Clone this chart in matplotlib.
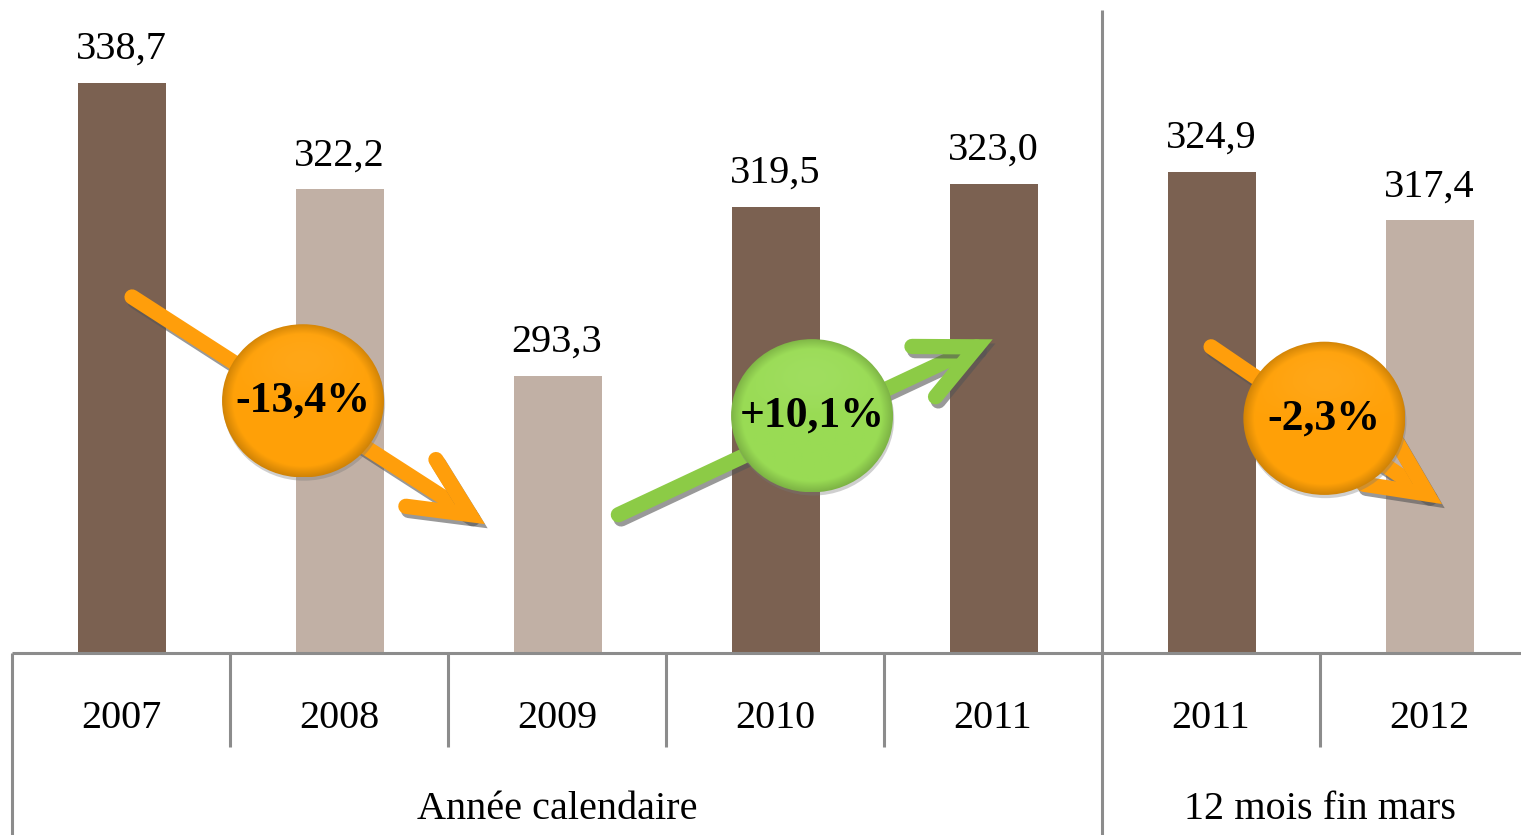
import numpy as np
import matplotlib
matplotlib.use("Agg")
from matplotlib import pyplot as plt
from matplotlib.patches import Ellipse, FancyArrowPatch
from matplotlib import patheffects as pe

# data
years = ['2007', '2008', '2009', '2010', '2011', '2011', '2012']
values = [338.7, 322.2, 293.3, 319.5, 323.0, 324.9, 317.4]
value_labels = ['338,7', '322,2', '293,3', '319,5', '323,0', '324,9', '317,4']
shade = ['dark', 'light', 'light', 'dark', 'dark', 'dark', 'light']
groups = ['Année calendaire', '12 mois fin mars']
group_span = [(0, 4), (5, 6)]
changes = ['-13,4%', '+10,1%', '-2,3%']
change_kind = ['down', 'up', 'down']
# arrow tail/head (category position, value) and bubble centre
arrow_tail = [(0.04, 305.8), (2.27, 271.7), (4.99, 298.1)]
arrow_head = [(1.68, 270.2), (4.01, 299.2), (6.07, 273.3)]
bubble_xy = [(0.835, 289.5), (3.17, 287.2), (5.52, 286.8)]

colors = {'dark': '#7B6151', 'light': '#C1B0A5'}
arrow_colors = {'down': '#FF9E0B', 'up': '#8CCB46'}
bubble_colors = {'down': (1.0, 0.63, 0.03), 'up': (0.60, 0.86, 0.33)}
serif = ['Liberation Serif', 'DejaVu Serif']
grid_col = '#8C8C8C'

fig = plt.figure(figsize=(15.21, 8.35), dpi=100)
ax = fig.add_axes([12 / 1521, 182 / 835, 1526 / 1521, 653 / 835])
tab = fig.add_axes([12 / 1521, 0, 1526 / 1521, 182 / 835])

x = np.arange(len(values))
ax.bar(x + 0.005, [v - 250.5 for v in values], bottom=250.5, width=0.40,
       color=[colors[s] for s in shade], zorder=2)
for xi, v, lab in zip(x, values, value_labels):
    ax.annotate(lab, (xi, v), xytext=(0, 11), textcoords='offset points',
                ha='center', va='bottom', fontsize=29, family=serif)

ax.set_xlim(-0.5, len(values) - 0.5)
ax.set_ylim(250.5, 351.5)
ax.axis('off')
ax.plot([4.5, 4.5], [250.5, 350], color=grid_col, lw=2.2, zorder=1,
        solid_capstyle='butt')

# arrows
for t, h, k in zip(arrow_tail, arrow_head, change_kind):
    arr = FancyArrowPatch(t, h, arrowstyle='->,head_length=4.2,head_width=2.0',
                          mutation_scale=10, color=arrow_colors[k], lw=11,
                          capstyle='round', joinstyle='miter', zorder=3,
                          path_effects=[pe.SimpleLineShadow(offset=(2, -3),
                                                            shadow_color='#555555',
                                                            alpha=0.6),
                                        pe.Normal()])
    ax.add_patch(arr)

# bubbles
bw, bh = 0.743, 23.7
n = 300
gy, gx = np.mgrid[1:-1:n * 1j, -1:1:n * 1j]
r = np.sqrt(gx ** 2 + gy ** 2)
for (cx, cy), lab, k in zip(bubble_xy, changes, change_kind):
    base = np.array(bubble_colors[k])
    rim = np.clip((r - 0.86) / 0.14, 0, 1)
    top = np.clip(gy, 0, 1) * np.clip(1 - r, 0, 1)
    img = base[None, None, :] * (1 - 0.18 * rim[..., None])
    img = img + (1 - img) * (0.25 * top[..., None])
    img = np.clip(img, 0, 1)
    sh = Ellipse((cx + 0.005, cy - 0.5), bw, bh, facecolor='#777777',
                 alpha=0.35, edgecolor='none', zorder=3.5)
    ax.add_patch(sh)
    clip = Ellipse((cx, cy), bw, bh, facecolor='none', edgecolor='none')
    ax.add_patch(clip)
    im = ax.imshow(img, extent=(cx - bw / 2, cx + bw / 2, cy - bh / 2, cy + bh / 2),
                   aspect='auto', zorder=4, interpolation='bilinear')
    im.set_clip_path(clip)
    ax.text(cx, cy, lab, ha='center', va='center', fontsize=31.5,
            fontweight='bold', family=serif, zorder=5)

ax.set_xlim(-0.5, len(values) - 0.5)
ax.set_ylim(250.5, 351.5)

# category table
tab.set_xlim(-0.5, len(values) - 0.5)
tab.set_ylim(0, 1)
tab.axis('off')
split = 0.484
lk = dict(color=grid_col, lw=2.2, solid_capstyle='butt', clip_on=False)
tab.plot([-0.5, len(values) - 0.5], [1, 1], **lk)
tab.plot([-0.5, -0.5], [0, 1], **lk)
for i in range(1, len(values)):
    bx = i - 0.5
    if any(bx == g[1] + 0.5 for g in group_span[:-1]):
        tab.plot([bx, bx], [0, 1], **lk)
    else:
        tab.plot([bx, bx], [split, 1], **lk)
for xi, yr in zip(x, years):
    tab.text(xi, 0.64, yr, ha='center', va='center', fontsize=29, family=serif)
for g, (a, b) in zip(groups, group_span):
    tab.text((a + b) / 2, 0.14, g, ha='center', va='center', fontsize=29,
             family=serif)

fig.savefig('out.png', dpi=100)
